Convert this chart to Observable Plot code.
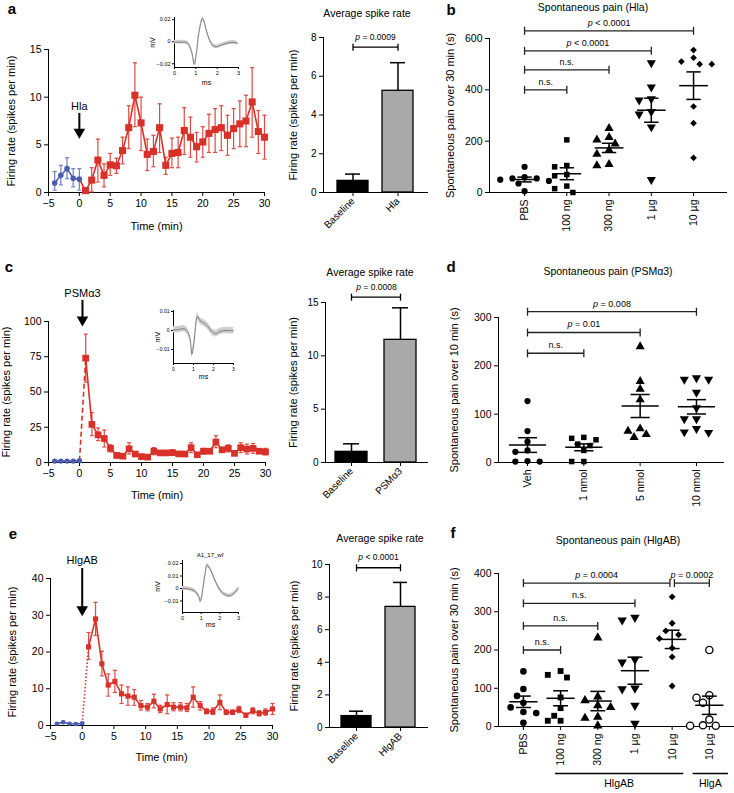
<!DOCTYPE html>
<html><head><meta charset="utf-8">
<script src="https://cdn.jsdelivr.net/npm/d3@7"></script>
<script src="https://cdn.jsdelivr.net/npm/@observablehq/plot@0.6"></script>
<style>
body{margin:0;background:#fff;}
#fig{position:relative;width:734px;height:793px;overflow:hidden;font-family:"Liberation Sans",Arial,Helvetica,sans-serif;background:#fff;}
#fig svg{position:absolute;}
.lbl{position:absolute;white-space:nowrap;transform:translate(-50%,-50%);color:#000;line-height:1;}
.letter{font-weight:bold;font-size:15px;}
.ttl{font-size:10.5px;}
.small{font-size:6px;}
.main g[aria-label$="axis label"] text{font-size:11px;}
.inset g[aria-label$="axis label"] text{font-size:7px;}
</style></head><body><div id="fig"></div><script>
// ---------------- DATA ----------------
const timeTicks = [-5,0,5,10,15,20,25,30];
// Panel a (Hla)
const aBaseT = [-4,-3,-2,-1,0];
const aBaseY = [1.0,1.8,2.5,1.5,1.4];
const aBaseLo = [0.25,0.8,1.45,0.6,0.25];
const aBaseHi = [2.2,2.85,3.65,2.5,2.5];
const aT = [1,2,3,4,5,6,7,8,9,10,11,12,13,14,15,16,17,18,19,20,21,22,23,24,25,26,27,28,29,30];
const aY = [0.2,1.3,3.4,1.8,2.9,2.8,4.4,6.8,10.2,7.3,4.0,4.3,6.8,2.85,4.1,4.2,6.5,5.8,4.8,5.3,6.2,6.6,6.8,6.0,6.7,7.2,7.5,9.5,6.4,5.8];
const aLo = [0.05,0.07,1.1,0.6,1.8,2.0,3.0,4.6,6.9,4.4,2.3,2.7,4.2,1.9,2.6,2.6,4.0,3.7,3.2,3.7,4.2,4.2,4.4,3.9,4.6,4.8,4.8,5.8,4.1,3.5];
const aHi = [0.35,2.6,5.6,3.0,4.1,3.6,5.8,9.1,13.6,10.0,5.6,6.0,9.3,3.7,5.7,5.8,8.9,7.9,6.3,6.9,8.2,8.8,9.1,8.1,8.8,9.6,10.2,13.1,8.6,8.1];
const aYTicks = [0,5,10,15];
// Panel c (PSMα3)
const cBaseT = [-4,-3,-2,-1,0];
const cBaseY = [1,1,1,1,1.3];
const cBaseLo = [0.6,0.6,0.6,0.6,0.8];
const cBaseHi = [1.4,1.4,1.4,1.4,1.8];
const cT = [1,2,3,4,5,6,7,8,9,10,11,12,13,14,15,16,17,18,19,20,21,22,23,24,25,26,27,28,29,30];
const cY = [74,27,19.6,17,10,5,4.5,9.7,6,4.2,3.8,8,6.8,6.8,7,6.1,6,10.5,5.5,8,8,14.5,9,10,6.5,10.5,9.5,10,8,7.5];
const cLo = [57,19,15.5,11,7.5,4,4,6,5,3.5,3,5.5,6,6,5,5,5,7,4.5,6,7,10.5,8,7.5,5.5,7,6,6.5,6.5,5.5];
const cHi = [91,35.5,24.5,23,12.5,6,6,14,7,5.5,5,10.5,8,8,9,7,7,14,6.5,10,9,19,10,12.5,7.5,14,13,13.5,9.5,10];
const cYTicks = [0,25,50,75,100];
// Panel e (HlgAB)
const eBaseT = [-4,-3,-2,-1,0];
const eBaseY = [0.5,0.9,0.5,0.4,0.6];
const eBaseLo = [0.3,0.6,0.3,0.2,0.4];
const eBaseHi = [0.7,1.2,0.7,0.6,0.8];
const eT = [1,2.1,3.1,4.1,5.15,6.2,7.2,8.2,9.25,10.3,11.3,12.3,13.4,14.4,15.5,16.5,17.5,18.6,19.6,20.6,21.7,22.7,23.7,24.7,25.8,26.9,27.9,28.9,30];
const eY = [21.4,29,16.8,11,12,8.6,8,7.7,5.4,5,6.6,4.5,5.7,5,5,4.8,7.7,5.4,3.8,3.8,6.3,3.6,3.6,4.3,2.8,4,3.3,3.6,4.5];
const eLo = [18,24.5,13.5,8,9,6,5.5,5.5,4.2,4,4.8,3.5,3.2,4,4,3.8,5,4.2,3.2,3,4.3,3,3,3.5,2.3,3.2,2.6,2.8,3];
const eHi = [25.3,33.5,20.2,14,15,11,10.5,9.8,6.8,6,8.5,5.5,8.3,6.2,6.2,6,10.5,6.5,4.5,4.8,8.3,4.2,4.2,5.2,3.3,4.8,4,4.5,6];
const eYTicks = [0,10,20,30,40];

// Bar panels
const barCatsA = ["Baseline","Hla"],   barMeanA = [0.6,5.25], barErrA = [0.95,6.7], barTicksA = [0,2,4,6,8];
const barCatsC = ["Baseline","PSMα3"], barMeanC = [1.0,11.5], barErrC = [1.75,14.5], barTicksC = [0,5,10,15];
const barCatsE = ["Baseline","HlgAB"], barMeanE = [0.7,7.4], barErrE = [1.0,8.9], barTicksE = [0,2,4,6,8,10];
const barP = ["p = 0.0009","p = 0.0008","p < 0.0001"];
const barPY = [7.5,15.5,9.8];

// Scatter b
const bCats = ["PBS","100 ng","300 ng","1 µg","10 µg"];
const bPBS = [100,60,55,55,50,45,35,5];
const b100 = [205,105,100,70,65,25,15,0];
const b300 = [250,215,205,190,165,150,110,105];
const b1 = [505,410,365,360,315,305,255,50];
const b10 = [555,525,510,500,500,335,270,135];
const bYTicks = [0,200,400,600];
const bBrFrom = [0,0,0,0], bBrTo = [1,2,3,4], bBrY = [400,478,552,630], bBrLab = ["n.s.","n.s.","p < 0.0001","p < 0.0001"];
// Scatter d
const dCats = ["Veh","1 nmol","5 nmol","10 nmol"];
const dVeh = [127,65,43,25,22,3,2,2];
const d1 = [52,50,47,38,35,25,2,2];
const d5 = [240,168,152,130,70,65,58,52];
const d10 = [175,172,172,145,113,90,90,70,62,63];
const dYTicks = [0,100,200,300];
const dBrFrom = [0,0,0], dBrTo = [1,2,3], dBrY = [226,269,312], dBrLab = ["n.s.","p = 0.01","p = 0.008"];
// Scatter f
const fCats = ["PBS","100 ng","300 ng","1 µg","10 µg","10 µg"];
const fPBS = [144,98,80,62,50,38,35,10];
const f100 = [145,135,128,76,48,28,15,15];
const f300 = [232,78,68,55,50,25,22,2];
const f1 = [285,278,175,168,100,98,55,8];
const f10 = [339,270,250,240,230,205,182,106];
const fA = [200,82,75,62,18,3,2,2];
const fYTicks = [0,100,200,300,400];
const fBrFrom = [0,0,0,0,4.06], fBrTo = [1,2,3,3.94,5], fBrY = [200,263,322,375,375], fBrLab = ["n.s.","n.s.","n.s.","p = 0.0004","p = 0.0002"];
const fGroups = ["HlgAB","HlgA"], fGroupFrom = [0.85,4.55], fGroupTo = [4.3,5.5];

// Insets (mean waveform, mV vs ms)
const insTicks = [0,1,2,3];
const insAT = [0,0.3,0.6,0.79,0.93,1.03,1.15,1.32,1.5,1.66,1.82,1.97,2.2,2.45,2.76,2.95];
const insAV = [-0.0005,-0.0005,-0.001,-0.008,-0.0205,-0.01,0.0086,0.021,0.01,0.001,-0.0037,-0.0046,-0.003,-0.0015,-0.0006,-0.0015];
const insCT = [0,0.28,0.53,0.7,0.83,0.92,1.03,1.13,1.2,1.33,1.5,1.7,1.95,2.12,2.33,2.62,3];
const insCV = [0.0003,0.0005,0.0009,-0.0005,-0.0043,-0.0125,-0.006,0.0043,0.0075,0.005,0.004,0.0023,-0.0009,-0.0017,-0.0005,0,-0.0002];
const insET = [0,0.41,0.68,0.86,0.96,1.09,1.21,1.32,1.52,1.75,2.02,2.29,2.55,2.82,3];
const insEV = [0,-0.0005,-0.0024,-0.006,-0.0102,-0.0005,0.0115,0.0185,0.0145,0.0063,-0.0013,-0.005,-0.0058,-0.0032,0.0003];

// ---------------- HELPERS ----------------
const FONT = '"Liberation Sans", Arial, Helvetica, sans-serif';
const RED = "#d7312a", RED_ERR = "#df4a42", BLUE = "#4a5cb0", BLUE_ERR = "#6f7fc8";
const fig = document.getElementById("fig");
function place(el, left, top, cls) {
  el.style.left = left + "px"; el.style.top = top + "px";
  if (cls) el.classList.add(cls);
  fig.appendChild(el);
}
function label(text, x, y, cls) {
  const d = document.createElement("div");
  d.className = "lbl " + cls; d.textContent = text;
  d.style.left = x + "px"; d.style.top = y + "px";
  fig.appendChild(d);
}
const minus = d => d < 0 ? "\u2212" + Math.abs(d) : String(d);
const baseStyle = fs => ({fontFamily: FONT, fontSize: fs, background: "transparent", overflow: "visible", color: "#000"});

function timePanel(o) {
  const base = o.baseT.map((t,i) => ({t, y: o.baseY[i], lo: o.baseLo[i], hi: o.baseHi[i]}));
  const red = o.t.map((t,i) => ({t, y: o.y[i], lo: o.lo[i], hi: o.hi[i]}));
  const w = 0.33;
  const lb = base[base.length-1], fr = red[0];
  const join = [{x1: lb.t, y1: lb.y, x2: fr.t, y2: fr.y}];
  const ann = [o.ann];
  const errMarks = (data, color, sw) => [
    Plot.ruleX(data, {x: "t", y1: "lo", y2: "hi", stroke: color, strokeWidth: sw}),
    Plot.link(data, {x1: d => d.t - w, x2: d => d.t + w, y1: "hi", y2: "hi", stroke: color, strokeWidth: sw}),
    Plot.link(data, {x1: d => d.t - w, x2: d => d.t + w, y1: "lo", y2: "lo", stroke: color, strokeWidth: sw})
  ];
  const p = Plot.plot({
    width: o.width, height: o.height,
    marginLeft: o.ml, marginRight: o.mr, marginTop: o.mt, marginBottom: o.mb,
    style: baseStyle("10.5px"),
    x: {domain: [-5,30], ticks: timeTicks, tickFormat: minus, tickSize: 4, tickPadding: 3, line: true,
        label: "Time (min)", labelArrow: "none", labelAnchor: "center", labelOffset: o.xlo},
    y: {domain: o.ydom, ticks: o.yticks, tickSize: 4, tickPadding: 3, line: true,
        label: "Firing rate (spikes per min)", labelArrow: "none", labelAnchor: "center", labelOffset: o.ylo},
    marks: [
      ...errMarks(red, RED_ERR, 1.2),
      ...errMarks(base, BLUE_ERR, 1.2),
      Plot.link(join, {x1: "x1", y1: "y1", x2: "x2", y2: "y2", stroke: RED, strokeWidth: 1.6, strokeDasharray: o.dash}),
      Plot.line(base, {x: "t", y: "y", stroke: BLUE, strokeWidth: 1.5}),
      Plot.line(red, {x: "t", y: "y", stroke: RED, strokeWidth: 1.6}),
      Plot.dot(base, {x: "t", y: "y", fill: BLUE, r: o.rb}),
      Plot.dot(red, {x: "t", y: "y", fill: RED, symbol: "square", r: o.rs}),
      Plot.text(ann, {x: "t", y: "yText", text: "label", fontSize: 11}),
      Plot.ruleX(ann, {x: "t", y1: "yFrom", y2: "yTip", stroke: "#000", strokeWidth: 2, insetBottom: 6}),
      Plot.dot(ann, {x: "t", y: "yTip", symbol: "triangle", rotate: 180, fill: "#000", r: 4.3, dy: -6})
    ]
  });
  place(p, o.left, o.top, "main");
}

function barPanel(o) {
  const data = o.cats.map((c,i) => ({c, m: o.mean[i], e: o.err[i]}));
  const fh = o.height - o.mt - o.mb;
  const k = 3.5 / (fh / (o.ydom[1] - o.ydom[0]));
  const br = [{y: o.pY, lo: o.pY - k, hi: o.pY + k, text: o.pText, a: o.cats[0], b: o.cats[1]}];
  const p = Plot.plot({
    width: o.width, height: o.height,
    marginLeft: o.ml, marginRight: o.mr, marginTop: o.mt, marginBottom: o.mb,
    style: baseStyle("10px"),
    x: {domain: o.cats, paddingInner: o.pi, paddingOuter: o.po, label: null, tickRotate: -45, tickSize: 4, tickPadding: 3, line: true},
    y: {domain: o.ydom, ticks: o.yticks, tickSize: 4, tickPadding: 3, line: true,
        label: "Firing rate (spikes per min)", labelArrow: "none", labelAnchor: "center", labelOffset: o.ylo},
    marks: [
      Plot.ruleX(data, {x: "c", y1: "m", y2: "e", strokeWidth: 1.5}),
      Plot.tickY(data, {x: "c", y: "e", insetLeft: 8, insetRight: 8, strokeWidth: 1.5}),
      Plot.barY(data.slice(0,1), {x: "c", y: "m", fill: "#000", stroke: "#000", strokeWidth: 1.3}),
      Plot.barY(data.slice(1), {x: "c", y: "m", fill: "#a9a9a9", stroke: "#000", strokeWidth: 1.3}),
      Plot.link(br, {x1: "a", x2: "b", y1: "y", y2: "y", strokeWidth: 1.3}),
      Plot.link(br, {x1: "a", x2: "a", y1: "lo", y2: "hi", strokeWidth: 1.3}),
      Plot.link(br, {x1: "b", x2: "b", y1: "lo", y2: "hi", strokeWidth: 1.3}),
      Plot.text(br, {y: "y", text: "text", dy: -10, fontSize: 8.5})
    ]
  });
  place(p, o.left, o.top, "main");
}

function swarm(vals, pxY, step, r) {
  const dpx = 2 * r + 0.8;
  const order = d3.range(vals.length).sort((a,b) => vals[b] - vals[a]);
  const placed = [], off = [];
  for (const i of order) {
    const y = vals[i] * pxY;
    for (let k = 0; k < 40; k++) {
      const x = (k === 0 ? 0 : (k % 2 ? -1 : 1) * Math.ceil(k / 2)) * dpx * 0.8;
      if (placed.every(p => Math.hypot(p.x - x, p.y - y) >= dpx)) { placed.push({x, y}); off[i] = x / step; break; }
    }
  }
  return off;
}

function scatterPanel(o) {
  const fh = o.height - o.mt - o.mb, fw = o.width - o.ml - o.mr;
  const pxY = fh / (o.ydom[1] - o.ydom[0]), step = fw / (o.xdom[1] - o.xdom[0]);
  const marks = [];
  const stats = [];
  o.groups.forEach((vals, i) => {
    const s = o.styles[i];
    const offs = swarm(vals, pxY, step, o.r + 0.3);
    const pts = vals.map((v,j) => ({x: i + offs[j], v}));
    marks.push(Plot.dot(pts, {x: "x", y: "v", symbol: s.symbol, rotate: s.rotate || 0, r: s.r || o.r,
      fill: s.open ? "#fff" : "#000", stroke: s.open ? "#000" : "none", strokeWidth: s.open ? 1.3 : 0}));
    const m = d3.mean(vals), se = d3.deviation(vals) / Math.sqrt(vals.length);
    stats.push({i, m, lo: m - se, hi: m + se});
  });
  marks.push(Plot.link(stats, {x1: d => d.i - o.mw, x2: d => d.i + o.mw, y1: "m", y2: "m", strokeWidth: 1.5}));
  marks.push(Plot.link(stats, {x1: "i", x2: "i", y1: "lo", y2: "hi", strokeWidth: 1.5}));
  marks.push(Plot.link(stats, {x1: d => d.i - o.cw, x2: d => d.i + o.cw, y1: "lo", y2: "lo", strokeWidth: 1.5}));
  marks.push(Plot.link(stats, {x1: d => d.i - o.cw, x2: d => d.i + o.cw, y1: "hi", y2: "hi", strokeWidth: 1.5}));
  const k = 4 / pxY;
  const brs = o.brFrom.map((a,i) => ({a, b: o.brTo[i], y: o.brY[i], lo: o.brY[i] - k, hi: o.brY[i] + k, text: o.brLab[i]}));
  marks.push(Plot.link(brs, {x1: "a", x2: "b", y1: "y", y2: "y", strokeWidth: 1.3, stroke: "#222"}));
  marks.push(Plot.link(brs, {x1: "a", x2: "a", y1: "lo", y2: "hi", strokeWidth: 1.3, stroke: "#222"}));
  marks.push(Plot.link(brs, {x1: "b", x2: "b", y1: "lo", y2: "hi", strokeWidth: 1.3, stroke: "#222"}));
  marks.push(Plot.text(brs, {x: d => (d.a + d.b) / 2, y: "y", text: "text", dy: -8, fontSize: 9}));
  if (o.groupLab) {
    const g = o.groupLab.map((t,i) => ({t, a: o.groupFrom[i], b: o.groupTo[i], y: o.ydom[0]}));
    marks.push(Plot.link(g, {x1: "a", x2: "b", y1: "y", y2: "y", strokeWidth: 1.3, dy: 47}));
    marks.push(Plot.text(g, {x: d => (d.a + d.b) / 2, y: "y", text: "t", dy: 57, fontSize: 10.5}));
  }
  const p = Plot.plot({
    width: o.width, height: o.height,
    marginLeft: o.ml, marginRight: o.mr, marginTop: o.mt, marginBottom: o.mb,
    style: baseStyle("10.5px"),
    x: {type: "linear", domain: o.xdom, ticks: d3.range(o.cats.length), tickFormat: i => o.cats[i],
        tickRotate: -90, tickSize: 4, tickPadding: 3, line: true, label: null},
    y: {domain: o.ydom, ticks: o.yticks, tickSize: 4, tickPadding: 3, line: true,
        label: o.ylabel, labelArrow: "none", labelAnchor: "center", labelOffset: o.ylo},
    marks
  });
  place(p, o.left, o.top, "main");
}

function insetPanel(o) {
  const d = o.t.map((t,i) => ({t, v: o.v[i], lo: o.v[i] - o.band, hi: o.v[i] + o.band}));
  const fmt = v => v === 0 ? "0" : (v < 0 ? "\u2212" : "") + Math.abs(v);
  const p = Plot.plot({
    width: o.width, height: o.height,
    marginLeft: o.ml, marginRight: o.mr, marginTop: o.mt, marginBottom: o.mb,
    style: baseStyle(o.fs),
    x: {domain: [0,3], ticks: insTicks, tickFormat: d => String(d), tickSize: 2, tickPadding: 2, line: true,
        label: "ms", labelArrow: "none", labelAnchor: "center", labelOffset: o.xlo},
    y: {domain: o.ydom, ticks: o.yticks, tickFormat: fmt, tickSize: 2, tickPadding: 2, line: true,
        label: "mV", labelArrow: "none", labelAnchor: "center", labelOffset: o.ylo},
    marks: [
      Plot.areaY(d, {x: "t", y1: "lo", y2: "hi", fill: "#cfcfcf", curve: "catmull-rom"}),
      Plot.line(d, {x: "t", y: "v", stroke: "#7d7d7d", strokeWidth: 1, curve: "catmull-rom"})
    ]
  });
  place(p, o.left, o.top, "inset");
}

// ---------------- PANELS ----------------
timePanel({left: 0, top: 0, width: 280, height: 235, ml: 48, mr: 16, mt: 49, mb: 43, xlo: 37, ylo: 41,
  ydom: [0,15], yticks: aYTicks, baseT: aBaseT, baseY: aBaseY, baseLo: aBaseLo, baseHi: aBaseHi,
  t: aT, y: aY, lo: aLo, hi: aHi, dash: null, rb: 2.8, rs: 4.0,
  ann: {t: 0, label: "Hla", yText: 9.0, yFrom: 8.3, yTip: 5.7}});
timePanel({left: 0, top: 265, width: 280, height: 260, ml: 48, mr: 15, mt: 56, mb: 63, xlo: 36, ylo: 46,
  ydom: [0,100], yticks: cYTicks, baseT: cBaseT, baseY: cBaseY, baseLo: cBaseLo, baseHi: cBaseHi,
  t: cT, y: cY, lo: cLo, hi: cHi, dash: "5,3", rb: 2.7, rs: 3.8,
  ann: {t: 0.48, label: "PSMα3", yText: 120, yFrom: 115, yTip: 97}});
timePanel({left: 0, top: 525, width: 280, height: 268, ml: 50, mr: 8, mt: 53, mb: 68, xlo: 35, ylo: 42,
  ydom: [0,40], yticks: eYTicks, baseT: eBaseT, baseY: eBaseY, baseLo: eBaseLo, baseHi: eBaseHi,
  t: eT, y: eY, lo: eLo, hi: eHi, dash: "1.5,2", rb: 2.2, rs: 2.9,
  ann: {t: 0, label: "HlgAB", yText: 44.9, yFrom: 42.7, yTip: 29.9}});

barPanel({left: 280, top: 0, width: 150, height: 265, ml: 43, mr: 3, mt: 37, mb: 73, pi: 0.31, po: 0.31, ylo: 34,
  cats: barCatsA, mean: barMeanA, err: barErrA, ydom: [0,8], yticks: barTicksA, pY: barPY[0], pText: barP[0]});
barPanel({left: 280, top: 265, width: 150, height: 260, ml: 45, mr: 3, mt: 37, mb: 63, pi: 0.34, po: 0.2, ylo: 36,
  cats: barCatsC, mean: barMeanC, err: barErrC, ydom: [0,15], yticks: barTicksC, pY: barPY[1], pText: barP[1]});
barPanel({left: 280, top: 525, width: 150, height: 268, ml: 49, mr: 3, mt: 39, mb: 66, pi: 0.31, po: 0.26, ylo: 39,
  cats: barCatsE, mean: barMeanE, err: barErrE, ydom: [0,10], yticks: barTicksE, pY: barPY[2], pText: barP[2]});

scatterPanel({left: 430, top: 0, width: 304, height: 265, ml: 59, mr: 8, mt: 38, mb: 73, xdom: [-0.83,4.78],
  ydom: [0,600], yticks: bYTicks, ylabel: "Spontaneous pain over 30 min (s)", ylo: 43, r: 3.1, mw: 0.34, cw: 0.17,
  cats: bCats, groups: [bPBS,b100,b300,b1,b10],
  styles: [{symbol: "circle"},{symbol: "square"},{symbol: "triangle", r: 3.4},{symbol: "triangle", rotate: 180, r: 3.4},{symbol: "diamond2", r: 3.0}],
  brFrom: bBrFrom, brTo: bBrTo, brY: bBrY, brLab: bBrLab});
scatterPanel({left: 430, top: 265, width: 304, height: 260, ml: 68, mr: 11, mt: 52, mb: 63, xdom: [-0.515,3.48],
  ydom: [0,300], yticks: dYTicks, ylabel: "Spontaneous pain over 10 min (s)", ylo: 48, r: 3.1, mw: 0.33, cw: 0.17,
  cats: dCats, groups: [dVeh,d1,d5,d10],
  styles: [{symbol: "circle"},{symbol: "square"},{symbol: "triangle", r: 3.4},{symbol: "triangle", rotate: 180, r: 3.4}],
  brFrom: dBrFrom, brTo: dBrTo, brY: dBrY, brLab: dBrLab});
scatterPanel({left: 430, top: 525, width: 304, height: 268, ml: 68, mr: 1, mt: 48, mb: 67, xdom: [-0.67,5.65],
  ydom: [0,400], yticks: fYTicks, ylabel: "Spontaneous pain over 30 min (s)", ylo: 48, r: 3.3, mw: 0.38, cw: 0.2,
  cats: fCats, groups: [fPBS,f100,f300,f1,f10,fA],
  styles: [{symbol: "circle"},{symbol: "square"},{symbol: "triangle", r: 3.5},{symbol: "triangle", rotate: 180, r: 3.5},{symbol: "diamond2", r: 3.1},{symbol: "circle", open: true, r: 3.6}],
  brFrom: fBrFrom, brTo: fBrTo, brY: fBrY, brLab: fBrLab,
  groupLab: fGroups, groupFrom: fGroupFrom, groupTo: fGroupTo});

insetPanel({left: 140, top: 8, width: 105, height: 80, ml: 34, mr: 7, mt: 9, mb: 21, fs: "5.5px", xlo: 17, ylo: 24,
  ydom: [-0.0234,0.022], yticks: [-0.02,0,0.02], t: insAT, v: insAV, band: 0.0017});
insetPanel({left: 140, top: 302, width: 100, height: 80, ml: 33, mr: 7, mt: 8, mb: 19, fs: "5px", xlo: 15, ylo: 18,
  ydom: [-0.0174,0.0105], yticks: [-0.01,0,0.01], t: insCT, v: insCV, band: 0.0017});
insetPanel({left: 145, top: 545, width: 100, height: 85, ml: 37, mr: 7, mt: 15, mb: 18, fs: "5.5px", xlo: 14, ylo: 27,
  ydom: [-0.0192,0.0224], yticks: [-0.01,0,0.01,0.02], t: insET, v: insEV, band: 0.0016});

// Titles and panel letters
label("a", 12, 8, "letter"); label("b", 451, 9, "letter");
label("c", 9, 266, "letter"); label("d", 451, 266, "letter");
label("e", 13, 533, "letter"); label("f", 453, 532, "letter");
label("Average spike rate", 367, 13, "ttl");
label("Average spike rate", 370, 272, "ttl");
label("Average spike rate", 380, 538, "ttl");
label("Spontaneous pain (Hla)", 593, 7, "ttl");
label("Spontaneous pain (PSMα3)", 608, 271, "ttl");
label("Spontaneous pain (HlgAB)", 618, 540, "ttl");
label("A1_17_wf", 210, 555, "small");

// italic "p" in significance labels
fig.querySelectorAll("svg text").forEach(el => {
  const t = el.textContent;
  if (/^p [=<]/.test(t) && el.children.length === 0) {
    el.textContent = "";
    const ns = "http://www.w3.org/2000/svg";
    const s1 = document.createElementNS(ns, "tspan"); s1.setAttribute("font-style", "italic"); s1.textContent = "p";
    el.appendChild(s1); el.appendChild(document.createTextNode(t.slice(1)));
  }
});
</script></body></html>
